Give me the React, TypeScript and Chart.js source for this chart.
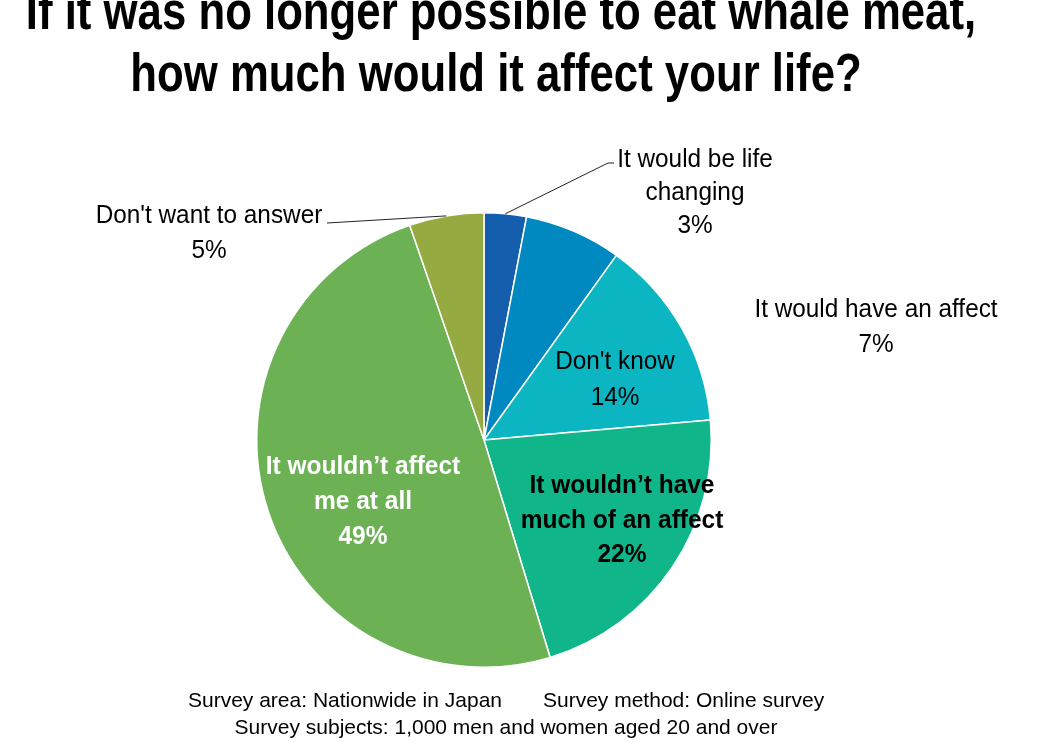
import React, { useEffect, useRef } from "react";
import { Chart, registerables } from "chart.js";

Chart.register(...registerables);

const categories = [
  "It would be life changing",
  "It would have an affect",
  "Don't know",
  "It wouldn't have much of an affect",
  "It wouldn't affect me at all",
  "Don't want to answer",
];
const values = [3.0, 6.9, 13.7, 21.7, 49.4, 5.3];
const percentLabels = ["3%", "7%", "14%", "22%", "49%", "5%"];
const labelLines = [
  ["It would be life", "changing"],
  ["It would have an affect"],
  ["Don't know"],
  ["It wouldn\u2019t have", "much of an affect"],
  ["It wouldn\u2019t affect", "me at all"],
  ["Don't want to answer"],
];
const colors = ["#155EAD", "#0088C1", "#0BB5C1", "#10B68A", "#6CB255", "#95AA40"];
const titleLines = ["If it was no longer possible to eat whale meat,", "how much would it affect your life?"];
const footLeft = "Survey area: Nationwide in Japan";
const footRight = "Survey method: Online survey";
const footLine2 = "Survey subjects: 1,000 men and women aged 20 and over";

const SANS = '"Liberation Sans", Arial, sans-serif';

// label layout: center x, first baseline, line height, weight, color
const labelLayout = [
  { x: 695, y: 167, lh: 33, bold: false, color: "#000" },
  { x: 876, y: 317, lh: 35, bold: false, color: "#000" },
  { x: 615, y: 369, lh: 35.5, bold: false, color: "#000" },
  { x: 622, y: 493, lh: 34.5, bold: true, color: "#000" },
  { x: 363, y: 474, lh: 35, bold: true, color: "#fff" },
  { x: 209, y: 223, lh: 35, bold: false, color: "#000" },
];
const leaderTargets: Record<number, [number, number][]> = {
  0: [[608, 163], [614, 163]],
  5: [[327, 223]],
};

function fillScaled(ctx: CanvasRenderingContext2D, text: string, x: number, y: number, sx: number) {
  ctx.save();
  ctx.translate(x, y);
  ctx.scale(sx, 1);
  ctx.fillText(text, 0, 0);
  ctx.restore();
}

const textPlugin = {
  id: "customText",
  afterDraw(chart: any) {
    const ctx = chart.ctx as CanvasRenderingContext2D;
    ctx.save();
    // title
    ctx.fillStyle = "#000";
    ctx.textAlign = "center";
    ctx.textBaseline = "alphabetic";
    ctx.font = `bold 54px ${SANS}`;
    fillScaled(ctx, titleLines[0], 501, 29, 0.81);
    fillScaled(ctx, titleLines[1], 496, 91, 0.81);

    // leader lines
    const meta = chart.getDatasetMeta(0);
    ctx.strokeStyle = "#222";
    ctx.lineWidth = 1;
    Object.keys(leaderTargets).forEach((k) => {
      const i = Number(k);
      const arc: any = meta.data[i];
      const mid = (arc.startAngle + arc.endAngle) / 2;
      const sx = arc.x + Math.cos(mid) * arc.outerRadius;
      const sy = arc.y + Math.sin(mid) * arc.outerRadius;
      ctx.beginPath();
      ctx.moveTo(sx, sy);
      leaderTargets[i].forEach(([px, py]) => ctx.lineTo(px, py));
      ctx.stroke();
    });

    // slice labels
    labelLayout.forEach((l, i) => {
      ctx.font = `${l.bold ? "bold " : ""}25.5px ${SANS}`;
      ctx.fillStyle = l.color;
      const lines = [...labelLines[i], percentLabels[i]];
      lines.forEach((t, j) => fillScaled(ctx, t, l.x, l.y + j * l.lh, l.bold ? 0.96 : 0.955));
    });

    // footnote
    ctx.fillStyle = "#000";
    ctx.font = `21px ${SANS}`;
    ctx.textAlign = "left";
    ctx.fillText(footLeft, 188, 707);
    ctx.fillText(footRight, 543, 707);
    ctx.textAlign = "center";
    ctx.fillText(footLine2, 506, 734);
    ctx.restore();
  },
};

export default function App() {
  const ref = useRef<HTMLCanvasElement>(null);
  useEffect(() => {
    if (!ref.current) return;
    const chart = new Chart(ref.current, {
      type: "pie",
      data: {
        labels: categories,
        datasets: [
          {
            data: values,
            backgroundColor: colors,
            borderColor: "#ffffff",
            borderWidth: 1.5,
          },
        ],
      },
      options: {
        responsive: false,
        maintainAspectRatio: false,
        animation: false,
        layout: { padding: { left: 256, right: 329, top: 212, bottom: 74 } },
        plugins: {
          legend: { display: false },
          tooltip: { enabled: false },
          title: { display: false },
        },
      },
      plugins: [textPlugin],
    });
    return () => chart.destroy();
  }, []);
  return (
    <div style={{ position: "absolute", left: 0, top: 0, width: 1041, height: 742, background: "#fff" }}>
      <canvas ref={ref} width={1041} height={742} style={{ display: "block" }} />
    </div>
  );
}
